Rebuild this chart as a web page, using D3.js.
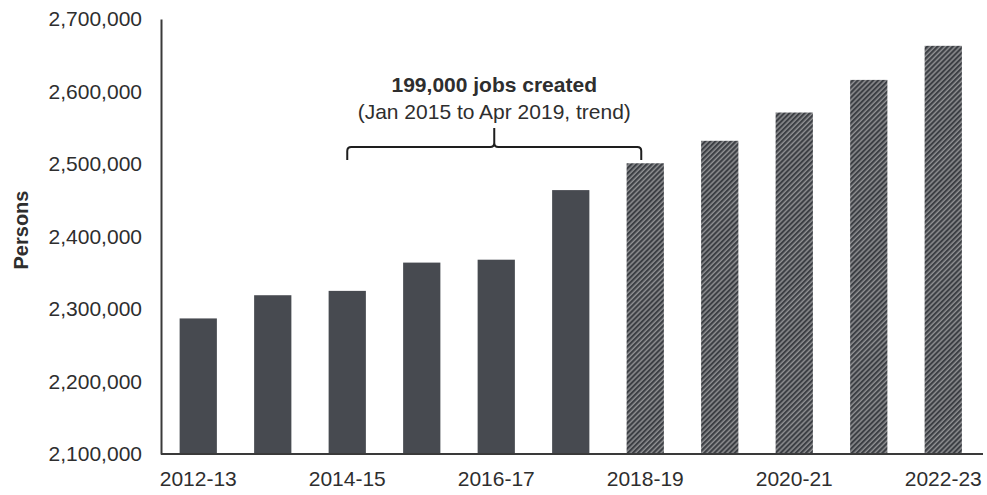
<!DOCTYPE html>
<html>
<head>
<meta charset="utf-8">
<script src="https://cdn.jsdelivr.net/npm/d3@7"></script>
<style>
  html, body { margin: 0; padding: 0; background: #ffffff; }
  svg { display: block; }
  text { font-family: "Liberation Sans", Arial, sans-serif; fill: #2e2e2e; }
</style>
</head>
<body>
<svg id="chart" width="987" height="495"></svg>
<script>
// Employed persons by financial year; last five years are projections
const years = ["2012-13", "2013-14", "2014-15", "2015-16", "2016-17", "2017-18",
               "2018-19", "2019-20", "2020-21", "2021-22", "2022-23"];
const persons = [2287000, 2319000, 2325000, 2364000, 2368000, 2464000,
                 2501000, 2532000, 2571000, 2616000, 2663000];
const projected = [false, false, false, false, false, false,
                   true, true, true, true, true];
const yTicks = [2100000, 2200000, 2300000, 2400000, 2500000, 2600000, 2700000];
const xTickLabels = ["2012-13", "2014-15", "2016-17", "2018-19", "2020-21", "2022-23"];
const noteTitle = "199,000 jobs created";
const noteSub = "(Jan 2015 to Apr 2019, trend)";
const bracketFrom = "2014-15";
const bracketTo = "2018-19";

const svg = d3.select("#chart");
const plotLeft = 161, plotRight = 980.5, plotTop = 19, plotBottom = 454;

const x = d3.scaleBand().domain(years).range([plotLeft, plotRight])
  .paddingInner(0.5).paddingOuter(0.25);
const y = d3.scaleLinear().domain([2100000, 2700000]).range([plotBottom, plotTop]);

// diagonal hatch for projected years
const defs = svg.append("defs");
const pat = defs.append("pattern")
  .attr("id", "hatch").attr("patternUnits", "userSpaceOnUse")
  .attr("width", 3.6).attr("height", 3.6)
  .attr("patternTransform", "rotate(45)");
pat.append("rect").attr("width", 3.6).attr("height", 3.6).attr("fill", "#909193");
pat.append("line").attr("x1", 1.1).attr("x2", 1.1).attr("y1", 0).attr("y2", 3.6)
  .attr("stroke", "#3a3d42").attr("stroke-width", 2.1);

// bars
svg.append("g").selectAll("rect")
  .data(years.map((yr, i) => ({ yr, v: persons[i], p: projected[i] })))
  .join("rect")
  .attr("x", d => x(d.yr))
  .attr("width", x.bandwidth())
  .attr("y", d => y(d.v))
  .attr("height", d => y(2100000) - y(d.v))
  .attr("fill", d => d.p ? "url(#hatch)" : "#474a50");

// y axis
const yAxis = svg.append("g").attr("transform", `translate(${plotLeft},0)`)
  .call(d3.axisLeft(y).tickValues(yTicks).tickSize(0).tickPadding(19)
    .tickFormat(d3.format(",")));
yAxis.select(".domain").attr("stroke", "#3a3a3a").attr("stroke-width", 2);
yAxis.selectAll("text").attr("font-size", 21).attr("fill", "#2e2e2e")
  .style("font-family", "Liberation Sans, Arial, sans-serif");

// x axis
const xAxis = svg.append("g").attr("transform", `translate(0,${plotBottom})`)
  .call(d3.axisBottom(x).tickValues(xTickLabels).tickSize(0).tickPadding(17));
xAxis.select(".domain").attr("d", `M${plotLeft},0H983`)
  .attr("stroke", "#3a3a3a").attr("stroke-width", 2);
xAxis.selectAll("text").attr("font-size", 21).attr("fill", "#2e2e2e")
  .style("font-family", "Liberation Sans, Arial, sans-serif");

// axis title
svg.append("text")
  .attr("transform", "translate(28,230) rotate(-90)")
  .attr("text-anchor", "middle")
  .attr("font-size", 20).attr("font-weight", "bold")
  .text("Persons");

// bracket spanning the job-growth period
const bx0 = x(bracketFrom) + x.bandwidth() / 2;
const bx1 = x(bracketTo) + x.bandwidth() / 2 - 4;
const bm = (bx0 + bx1) / 2;
const by = 147, r = 4;
svg.append("path")
  .attr("d", `M${bx0},160 V${by + r} Q${bx0},${by} ${bx0 + r},${by} H${bm - r} Q${bm},${by} ${bm},${by - r} V128
              M${bm},${by - r} Q${bm},${by} ${bm + r},${by} H${bx1 - r} Q${bx1},${by} ${bx1},${by + r} V160`)
  .attr("fill", "none").attr("stroke", "#1e1e1e").attr("stroke-width", 2);

svg.append("text").attr("x", bm).attr("y", 92).attr("text-anchor", "middle")
  .attr("font-size", 21).attr("font-weight", "bold").attr("fill", "#1e1e1e")
  .text(noteTitle);
svg.append("text").attr("x", bm).attr("y", 119).attr("text-anchor", "middle")
  .attr("font-size", 21).attr("fill", "#2e2e2e")
  .text(noteSub);
</script>
</body>
</html>
